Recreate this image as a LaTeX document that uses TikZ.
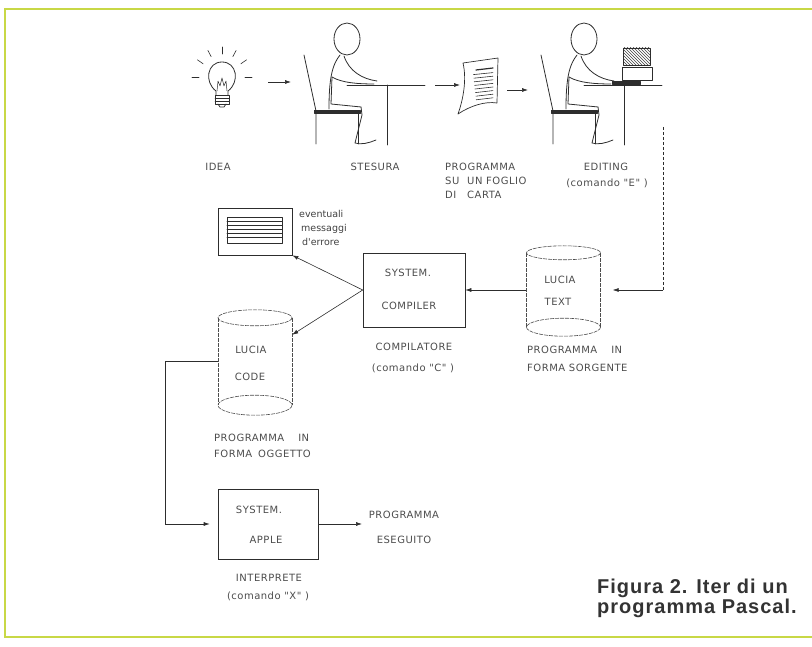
\documentclass[tikz,border=0pt]{standalone}
\usepackage{fontspec}
\usepackage{tikz}
\usetikzlibrary{arrows.meta,calc,patterns}

\newfontfamily\dotfont[LetterSpace=5]{DejaVu Sans}
\newfontfamily\notefont{DejaVu Sans}
\newfontfamily\capfont[LetterSpace=5]{Liberation Sans}

\definecolor{ink}{RGB}{45,45,45}
\definecolor{framegreen}{RGB}{200,216,70}

\begin{document}
\begin{tikzpicture}[
  x=1pt,
  y=-1pt,
  lbl/.style={font={\dotfont\fontsize{10}{12}\selectfont}, text=black!70, inner sep=0pt, anchor=base},
  note/.style={font={\notefont\fontsize{9.5}{11}\selectfont}, text=black!75, inner sep=0pt, anchor=base west},
  fig/.style={draw=ink, line width=0.8pt, line cap=round, line join=round},
  box/.style={draw=ink, line width=0.6pt, inner sep=0pt},
  disk/.style={draw=black!70, line width=0.6pt, dash pattern=on 4pt off 1pt},
  link/.style={draw=ink, line width=0.6pt},
  arr/.style={link, -{Latex[length=6pt,width=4pt]}}
]
  \useasboundingbox (0,0) rectangle (812,647);
  \draw[framegreen, line width=2.5pt] (812,9) -- (5,9) -- (5,637) -- (812,637);

  % light bulb
  \coordinate (bulb) at (222,77);
  \foreach \a in {0,-35,-62,-90,-118,-145,-180}
    \draw[fig, line width=0.6pt] ($(bulb)+(\a:23)$) -- ($(bulb)+(\a:30)$);
  \draw[fig] (216,91) .. controls (204,82) and (207,62) .. (222,62)
    .. controls (237,62) and (240,82) .. (228,91) -- (228,95) (216,91) -- (216,95);
  \draw[fig, line width=0.5pt] (217,91) -- (218,81) -- (220,86) -- (222,78) -- (224,86) -- (226,81) -- (227,91);
  \draw[fig] (215,95) rectangle (229,104);
  \foreach \yy in {98,101}
    \draw[fig, line width=0.5pt] (215,\yy) -- (229,\yy);
  \draw[fig] (218,104) -- (220,107) -- (224,107) -- (226,104);

  % two people at a desk
  \foreach \hx in {347,584} {
    \begin{scope}[shift={(\hx,39)}]
      \draw[fig] (0,0) ellipse [x radius=13, y radius=16];
      \draw[fig] (-43,16) -- (-31,72) -- (-31,105);
      \draw[fig, fill=ink] (-33,71) rectangle (13,74);
      \draw[fig] (11,74) -- (11,105);
      \draw[fig] (-7,16) .. controls (-15,26) and (-18,40) .. (-18,70);
      \draw[fig] (-3,17) .. controls (2,32) and (15,40) .. (30,42);
      \draw[fig] (-15,38) .. controls (-5,44) and (12,45) .. (27,45);
      \draw[fig] (-15,38) -- (-16,65) -- (14,68);
      \draw[fig] (14,68) -- (15,76) -- (8,104) .. controls (14,106) and (22,104) .. (29,101);
      \draw[fig] (0,46) -- (78,46) (40,46) -- (40,106);
    \end{scope}
  }

  % sheet of paper
  \draw[fig, line width=0.7pt] (463,63) -- (498,58) -- (497,103)
    .. controls (485,101) and (470,106) .. (458,114)
    .. controls (463,100) and (467,80) .. (463,63);
  \draw[fig, line width=1.2pt] (476,70) -- (493,68);
  \foreach \i in {1,...,8}
    \draw[fig, line width=0.6pt] (473+0.4*\i,71+3.6*\i) -- (493,69+3.6*\i);

  % computer on the second desk
  \draw[fig, line width=0.6pt, pattern=north west lines, pattern color=black!75] (623,48) rectangle (650,65);
  \draw[fig, line width=0.6pt] (622,67) rectangle (652,80);
  \draw[fig, fill=ink] (612,81) rectangle (640,84);

  \coordinate (ideaR) at (268,82);
  \coordinate (writeL) at (291,82);
  \coordinate (writeR) at (435,85);
  \coordinate (sheetL) at (460,85);
  \coordinate (sheetR) at (507,90);
  \coordinate (editL) at (528,90);
  \draw[arr] (ideaR) -- (writeL);
  \draw[arr] (writeR) -- (sheetL);
  \draw[arr] (sheetR) -- (editL);

  \node[lbl] (ideaT) at (218,171) {IDEA};
  \node[lbl] (writeT) at (375,171) {STESURA};
  \node[lbl, anchor=base west] (sheetT1) at (445,171) {PROGRAMMA};
  \node[lbl, anchor=base west] (sheetT2) at (445,185) {\makebox[22pt][l]{SU}UN FOGLIO};
  \node[lbl, anchor=base west] (sheetT3) at (445,199) {\makebox[22pt][l]{DI}CARTA};
  \node[lbl] (editT1) at (606,171) {EDITING};
  \node[lbl] (editT2) at (607,187) {(comando "E" )};

  % disks, compiler, interpreter
  \node[inner sep=0pt, minimum width=74pt, minimum height=74pt] (src) at (563.5,290) {};
  \node[inner sep=0pt, minimum width=74pt, minimum height=87pt] (code) at (255,361.5) {};
  \foreach \c/\rt/\rb in {src/7/9, code/8/10} {
    \draw[disk] (\c.north west) -- (\c.south west) (\c.north east) -- (\c.south east);
    \draw[disk] (\c.north) ellipse [x radius=37, y radius=\rt];
    \draw[disk] (\c.south) ellipse [x radius=37, y radius=\rb];
  }
  \node[box, minimum width=102pt, minimum height=74pt] (comp) at (414,290) {};
  \node[box, minimum width=100pt, minimum height=70pt] (apple) at (268,524) {};
  \node[box, minimum width=74pt, minimum height=47pt] (err) at (255,231.5) {};
  \draw[fig, line width=0.6pt] (227,217) rectangle (282,243);
  \foreach \yy in {221,225,...,239}
    \draw[fig, line width=0.6pt] (227,\yy) -- (282,\yy);

  \node[lbl] (srcT1) at (560,284) {LUCIA};
  \node[lbl] (srcT2) at (558,306) {TEXT};
  \node[lbl, anchor=base west] (srcL1) at (527,354) {PROGRAMMA\hspace{14pt}IN};
  \node[lbl, anchor=base west] (srcL2) at (527,371) {FORMA SORGENTE};
  \node[lbl] (compT1) at (408,277) {SYSTEM.};
  \node[lbl] (compT2) at (409,309) {COMPILER};
  \node[lbl] (compL1) at (414,351) {COMPILATORE};
  \node[lbl] (compL2) at (413,371) {(comando "C" )};
  \node[note] (errT1) at (299,218) {eventuali};
  \node[note] (errT2) at (301,232) {messaggi};
  \node[note] (errT3) at (302,246) {d'errore};
  \node[lbl] (codeT1) at (251,354) {LUCIA};
  \node[lbl] (codeT2) at (250,381) {CODE};
  \node[lbl, anchor=base west] (codeL1) at (214,441) {PROGRAMMA\hspace{14pt}IN};
  \node[lbl, anchor=base west] (codeL2) at (214,457) {FORMA\hspace{6pt}OGGETTO};
  \node[lbl] (appleT1) at (259,513) {SYSTEM.};
  \node[lbl] (appleT2) at (266,543) {APPLE};
  \node[lbl] (appleL1) at (269,581) {INTERPRETE};
  \node[lbl] (appleL2) at (268,599) {(comando "X" )};
  \node[lbl] (runT1) at (404,518) {PROGRAMMA};
  \node[lbl] (runT2) at (404,543) {ESEGUITO};

  \coordinate (editout) at (663,127);
  \coordinate (bend) at (editout |- src.east);
  \coordinate (done) at (362,524);
  \draw[link, dash pattern=on 3pt off 2pt] (editout) -- (bend);
  \draw[arr] (bend) -- ($(src.east)+(12,0)$);
  \draw[arr] (src.west) -- (comp.east);
  \draw[arr] (comp.west) -- (err.south east);
  \draw[arr] (comp.west) -- ($(code.north east)+(0,17)$);
  \draw[arr, shorten >=8pt] (code.west) -- ++(-53,0) |- (apple.west);
  \draw[arr] (apple.east) -- (done);

  \node[font={\capfont\bfseries\fontsize{20}{22}\selectfont}, text=black!80, inner sep=0pt, anchor=base west] (cap1) at (597,593) {Figura 2. Iter di un};
  \node[font={\capfont\bfseries\fontsize{20}{22}\selectfont}, text=black!80, inner sep=0pt, anchor=base west] (cap2) at (597,613) {programma Pascal.};
\end{tikzpicture}
\end{document}
